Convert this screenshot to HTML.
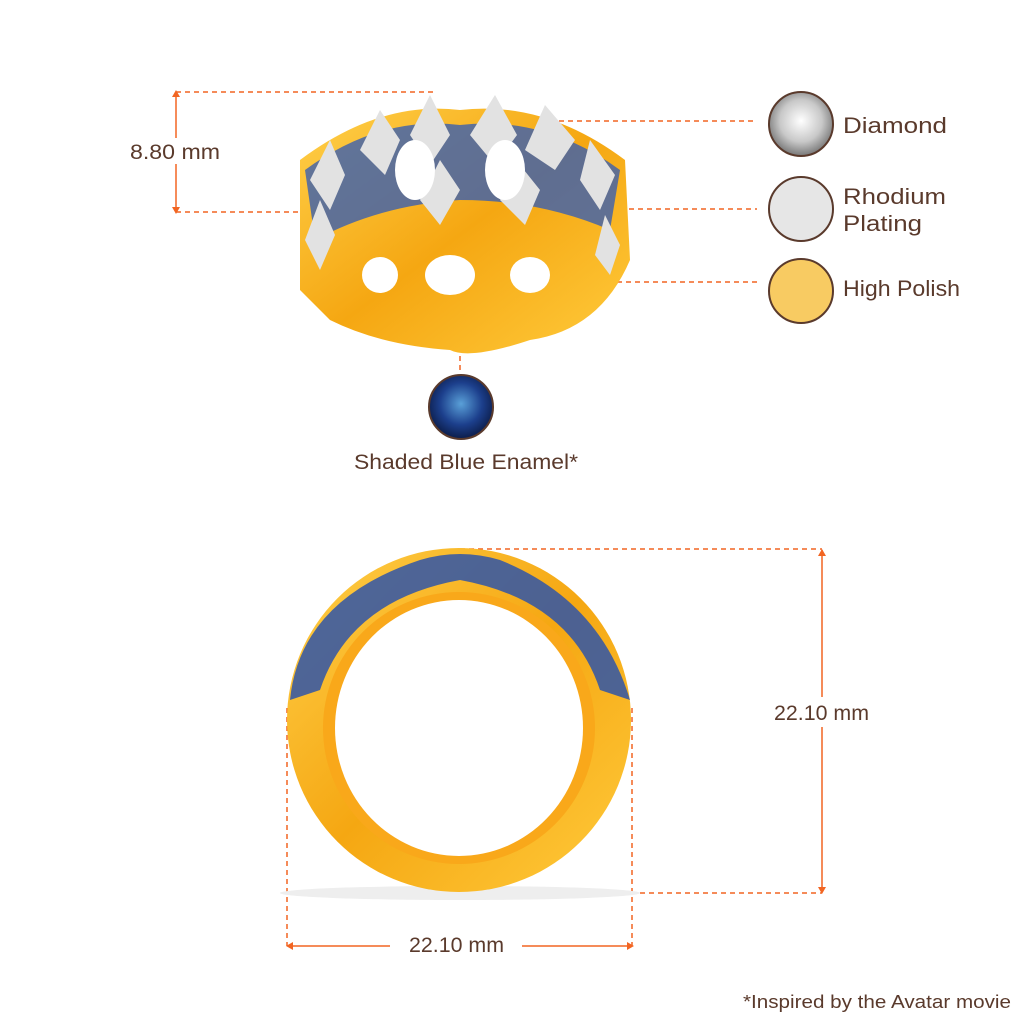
<!DOCTYPE html>
<html><head><style>
html,body{margin:0;padding:0;background:#fff}
svg{display:block}
text{font-family:"Liberation Sans",sans-serif;fill:#5a3a2c}
</style></head><body>
<svg width="1024" height="1024" viewBox="0 0 1024 1024">
<defs>
<radialGradient id="dia" cx="50%" cy="45%" r="55%"><stop offset="0" stop-color="#fff"/><stop offset=".6" stop-color="#c8c8c8"/><stop offset="1" stop-color="#777"/></radialGradient>
<radialGradient id="blu" cx="50%" cy="45%" r="55%"><stop offset="0" stop-color="#5aa0d8"/><stop offset=".6" stop-color="#1c3f8c"/><stop offset="1" stop-color="#0c1d4a"/></radialGradient>
<linearGradient id="gold" x1="0" y1="0" x2="1" y2="1"><stop offset="0" stop-color="#ffd04a"/><stop offset=".5" stop-color="#f5a712"/><stop offset="1" stop-color="#ffcb3c"/></linearGradient>
</defs>
<g stroke="#f26522" stroke-width="1.5" fill="none">
<path d="M176 92H437M176 212H330" stroke-dasharray="5 4"/>
<path d="M176 94V210"/>
<path d="M496 121H755M530 209H757M590 282H757M460 230V370" stroke-dasharray="5 4"/>
<path d="M460 549H822M460 893H822M287 708V946M632 708V946" stroke-dasharray="5 4"/>
<path d="M822 550V892M288 946H390M522 946H632"/>
</g>
<g fill="#f26522">
<path d="M176 90l-4 7h8z M176 214l-4-7h8z M822 549l-4 7h8z M822 894l-4-7h8z M286 946l7-4v8z M634 946l-7-4v8z"/>
</g>
<rect x="126" y="138" width="98" height="26" fill="#fff"/>
<rect x="770" y="697" width="104" height="30" fill="#fff"/>
<text x="130" y="159" font-size="21" textLength="90" lengthAdjust="spacingAndGlyphs">8.80 mm</text>
<text x="774" y="720" font-size="21" textLength="95" lengthAdjust="spacingAndGlyphs">22.10 mm</text>
<text x="409" y="952" font-size="21" textLength="95" lengthAdjust="spacingAndGlyphs">22.10 mm</text>
<text x="422" y="731" font-size="21" textLength="70" lengthAdjust="spacingAndGlyphs">SIZE 12</text>
<text x="354" y="469" font-size="21" textLength="224" lengthAdjust="spacingAndGlyphs">Shaded Blue Enamel*</text>
<text x="843" y="133" font-size="22" textLength="104" lengthAdjust="spacingAndGlyphs">Diamond</text>
<text x="843" y="204" font-size="22" textLength="103" lengthAdjust="spacingAndGlyphs">Rhodium</text>
<text x="843" y="231" font-size="22" textLength="79" lengthAdjust="spacingAndGlyphs">Plating</text>
<text x="843" y="296" font-size="22" textLength="117" lengthAdjust="spacingAndGlyphs">High Polish</text>
<text x="743" y="1008" font-size="18" textLength="268" lengthAdjust="spacingAndGlyphs">*Inspired by the Avatar movie</text>
<circle cx="801" cy="124" r="32" fill="url(#dia)" stroke="#5a3a2c" stroke-width="2"/>
<circle cx="801" cy="209" r="32" fill="#e6e6e6" stroke="#5a3a2c" stroke-width="2"/>
<circle cx="801" cy="291" r="32" fill="#f8cb62" stroke="#5a3a2c" stroke-width="2"/>
<circle cx="461" cy="407" r="32" fill="url(#blu)" stroke="#5a3a2c" stroke-width="2"/>
<!-- top ring -->
<path d="M300 160Q380 100 460 110Q545 100 625 160L630 260Q600 330 530 340Q470 360 450 350Q380 345 330 320L300 290Z" fill="url(#gold)"/>
<path d="M305 170Q380 115 460 125Q545 115 620 170L610 230Q540 200 460 200Q380 205 315 240Z" fill="#3a5fb0" opacity=".8"/>
<g fill="#e2e2e2">
<path d="M430 95l-20 40 20 30 20-30z M495 95l-25 40 25 30 22-30z M545 105l-20 45 30 20 20-30z M380 110l-20 40 25 25 15-35z M330 140l-20 40 20 30 15-35z M590 140l-10 40 20 30 15-35z M440 160l-20 40 20 25 20-35z M520 165l-20 35 25 25 15-35z M320 200l-15 40 15 30 15-35z M605 215l-10 40 15 20 10-30z"/>
</g>
<g fill="#fff">
<ellipse cx="415" cy="170" rx="20" ry="30"/><ellipse cx="505" cy="170" rx="20" ry="30"/>
<ellipse cx="450" cy="275" rx="25" ry="20"/><ellipse cx="380" cy="275" rx="18" ry="18"/><ellipse cx="530" cy="275" rx="20" ry="18"/>
</g>
<!-- bottom ring -->
<ellipse cx="460" cy="893" rx="180" ry="7" fill="#eee"/>
<ellipse cx="459" cy="720" rx="172" ry="172" fill="url(#gold)"/>
<path d="M290 700Q300 600 420 560Q460 548 500 560Q600 600 630 700L600 690Q570 600 460 580Q350 600 320 690Z" fill="#2f55a8" opacity=".85"/>
<circle cx="459" cy="728" r="136" fill="#f9a81a"/>
<ellipse cx="459" cy="728" rx="124" ry="128" fill="#fff"/>
</svg>
</body></html>
